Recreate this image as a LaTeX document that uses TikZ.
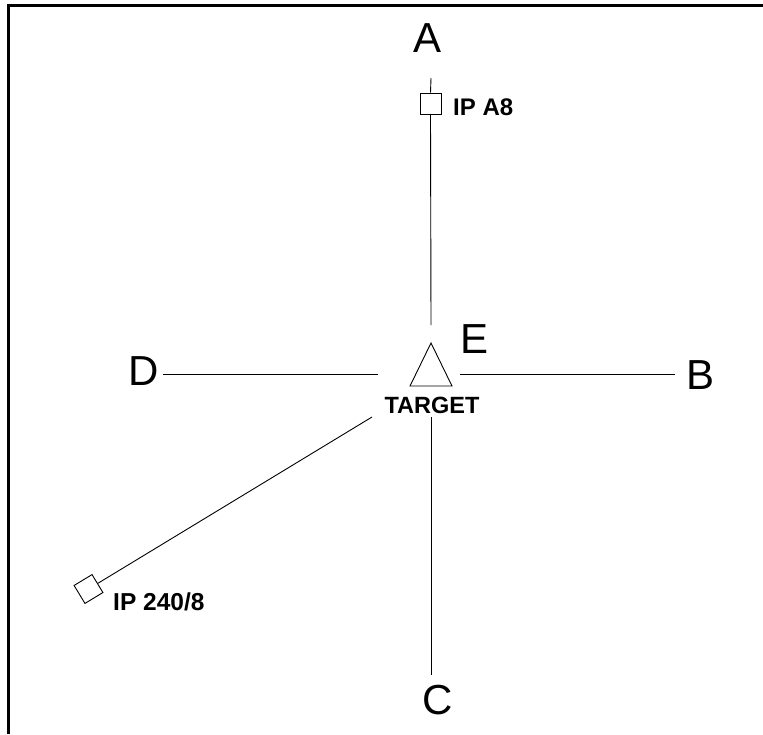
\documentclass[tikz,border=0pt]{standalone}
\usepackage{fontspec}
\setmainfont{Liberation Sans}
\begin{document}
\begin{tikzpicture}[x=1pt,y=-1pt,
  frameline/.style={line width=3pt,line join=miter},
  axis/.style={line width=0.9pt},
  ipbox/.style={draw,line width=0.9pt,minimum width=21pt,minimum height=21pt,inner sep=0pt},
  dirlabel/.style={font=\fontsize{42}{42}\selectfont,inner sep=0pt,anchor=base},
  tag/.style={font=\fontsize{24}{24}\selectfont\bfseries,inner sep=0pt}]
\useasboundingbox (0,0) rectangle (763,734);
% open frame: top and left edges only
\draw[frameline] (763,5.5) -- (8.5,5.5) -- (8.5,734);

% target triangle
\coordinate (apex) at (431,343);
\coordinate (bl) at (410,386);
\coordinate (br) at (452,386);
\draw[line width=0.9pt,line join=miter] (apex) -- (bl) -- (br) -- cycle;

% initial points
\node[ipbox] (ipA) at (430.5,103.5) {};
\node[ipbox,rotate=31.2] (ipW) at (88.5,589) {};

% line ends
\coordinate (nTop) at (431,78);
\coordinate (nLow) at (431,325);
\coordinate (sTop) at (431,417);
\coordinate (sEnd) at (431,675);
\coordinate (wEnd) at (163,374);
\coordinate (wIn) at (378,374);
\coordinate (eIn) at (460,374);
\coordinate (eEnd) at (675,374);
\coordinate (dgIn) at (372,417);

\draw[axis] (nTop) -- (ipA.north);
\draw[axis] (ipA.south) -- (nLow);
\draw[axis] (sTop) -- (sEnd);
\draw[axis] (wEnd) -- (wIn);
\draw[axis] (eIn) -- (eEnd);
\draw[axis] (dgIn) -- (ipW.east);

% point letters
\node[dirlabel] (lA) at (428,52) {A};
\node[dirlabel] (lE) at (475,353) {E};
\node[dirlabel] (lD) at (144,385) {D};
\node[dirlabel] (lB) at (700,389) {B};
\node[dirlabel] (lC) at (438,714) {C};

% tags
\node[tag,anchor=base west] (tA) at (453,115) {IP A8};
\node[tag,anchor=base,font=\fontsize{23.5}{23.5}\selectfont\bfseries] (tT) at (432,413) {TARGET};
\node[tag,anchor=base west,font=\fontsize{24.5}{24.5}\selectfont\bfseries] (tW) at (113,610) {IP 240/8};
\end{tikzpicture}
\end{document}
